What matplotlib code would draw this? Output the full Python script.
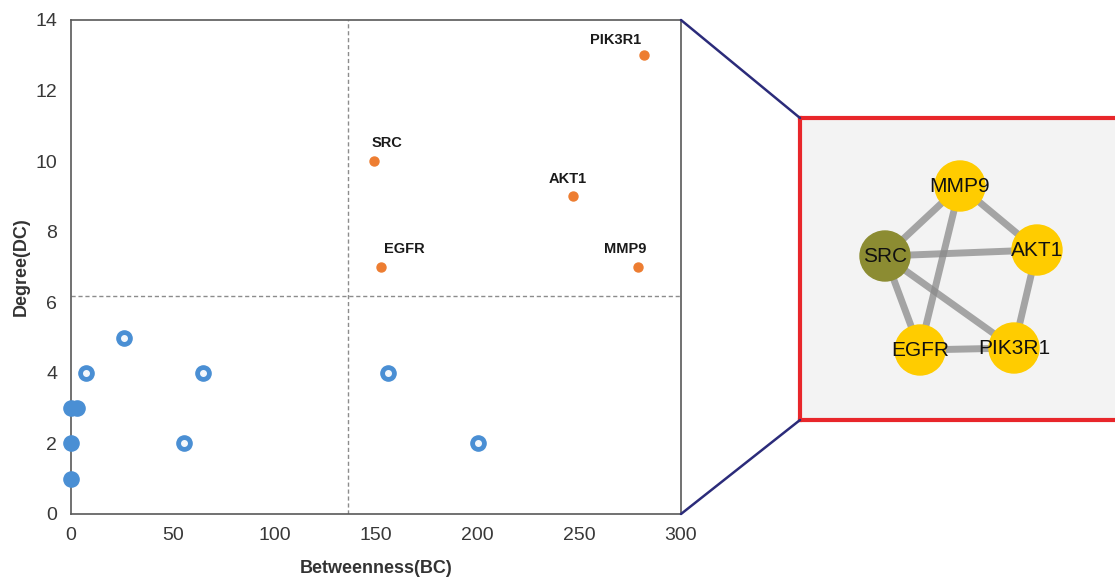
import matplotlib
matplotlib.use('Agg')
import matplotlib.pyplot as plt
from matplotlib.patches import ConnectionPatch, Circle

plt.rcParams['font.family'] = ['Liberation Sans', 'DejaVu Sans']

# hub genes (orange, labelled)
hub_names = ['PIK3R1', 'SRC', 'AKT1', 'EGFR', 'MMP9']
hub_bc = [282, 149, 247, 152.5, 279]
hub_dc = [13, 10, 9, 7, 7]

# other genes (blue rings)
ring_bc = [26, 7.5, 65, 156, 55.5, 200]
ring_dc = [5, 4, 4, 4, 2, 2]
# genes sitting on bc ~ 0 (solid blue)
solid_bc = [0, 3, 0, 0]
solid_dc = [3, 3, 2, 1]

bc_cut = 136
dc_cut = 6.18

# network panel
net_nodes = ['MMP9', 'SRC', 'AKT1', 'EGFR', 'PIK3R1']
net_layout = {'MMP9': (960, 186), 'SRC': (885, 256), 'AKT1': (1037, 250),
              'EGFR': (920, 350), 'PIK3R1': (1014, 348)}
net_colors = {'MMP9': '#ffcc00', 'SRC': '#8c8c32', 'AKT1': '#ffcc00',
              'EGFR': '#ffcc00', 'PIK3R1': '#ffcc00'}
net_edges = [('SRC', 'MMP9'), ('MMP9', 'AKT1'), ('SRC', 'AKT1'), ('MMP9', 'EGFR'),
             ('SRC', 'EGFR'), ('SRC', 'PIK3R1'), ('AKT1', 'PIK3R1'), ('EGFR', 'PIK3R1')]

W, H = 1115, 577
fig = plt.figure(figsize=(W / 100, H / 100), dpi=100)
ax = fig.add_axes([71 / W, 1 - 514 / H, 610 / W, 494 / H])

ax.axvline(bc_cut, color='#8c8c8c', ls=(0, (3, 2)), lw=1)
ax.axhline(dc_cut, color='#8c8c8c', ls=(0, (3, 2)), lw=1)

ax.scatter(solid_bc, solid_dc, s=120, color='#4a8fd4', zorder=3, clip_on=False)
ax.scatter(ring_bc, ring_dc, s=120, color='#4a8fd4', zorder=3, clip_on=False)
ax.scatter(ring_bc, ring_dc, s=16, color='#f4f8fc', zorder=4, clip_on=False)
ax.scatter(hub_bc, hub_dc, s=42, color='#ed7d31', zorder=3)

offsets = {'PIK3R1': (-39, 8), 'SRC': (-2, 10), 'AKT1': (-18, 10),
           'EGFR': (2, 10), 'MMP9': (-25, 10)}
for n, x, y in zip(hub_names, hub_bc, hub_dc):
    ax.annotate(n, (x, y), xytext=offsets[n], textcoords='offset points',
                fontsize=10.5, fontweight='bold', color='#1a1a1a')

ax.set_xlim(0, 300)
ax.set_ylim(0, 14)
ax.set_xticks(range(0, 301, 50))
ax.set_yticks(range(0, 15, 2))
ax.tick_params(length=0, labelsize=14, colors='#383838')
ax.tick_params(axis='y', pad=10)
ax.tick_params(axis='x', pad=9)
for sp in ax.spines.values():
    sp.set_color('#595959')
    sp.set_linewidth(1.2)
ax.set_xlabel('Betweenness(BC)', fontsize=13, fontweight='bold', color='#333333', labelpad=12)
ax.set_ylabel('Degree(DC)', fontsize=13, fontweight='bold', color='#333333', labelpad=4)

# zoomed network panel
ax2 = fig.add_axes([800 / W, 1 - 420 / H, 330 / W, 302 / H])
ax2.set_xlim(800, 1130)
ax2.set_ylim(420, 118)
ax2.set_facecolor('#f3f3f3')
ax2.set_xticks([])
ax2.set_yticks([])
for sp in ax2.spines.values():
    sp.set_color('#e8262a')
    sp.set_linewidth(3)

for a, b in net_edges:
    (x1, y1), (x2, y2) = net_layout[a], net_layout[b]
    ax2.plot([x1, x2], [y1, y2], color='#8a8a8a', lw=5, alpha=0.75, zorder=2)
for n in net_nodes:
    x, y = net_layout[n]
    ax2.add_patch(Circle((x, y), 25, color=net_colors[n], zorder=3))
    ax2.text(x, y, n, ha='center', va='center', fontsize=15, color='#111111', zorder=4)

for ya, yb in [(1, 1), (0, 0)]:
    con = ConnectionPatch(xyA=(1, ya), coordsA=ax.transAxes,
                          xyB=(0, yb), coordsB=ax2.transAxes,
                          color='#2b2b7a', lw=1.8)
    fig.add_artist(con)

fig.savefig('out.png', dpi=100)
